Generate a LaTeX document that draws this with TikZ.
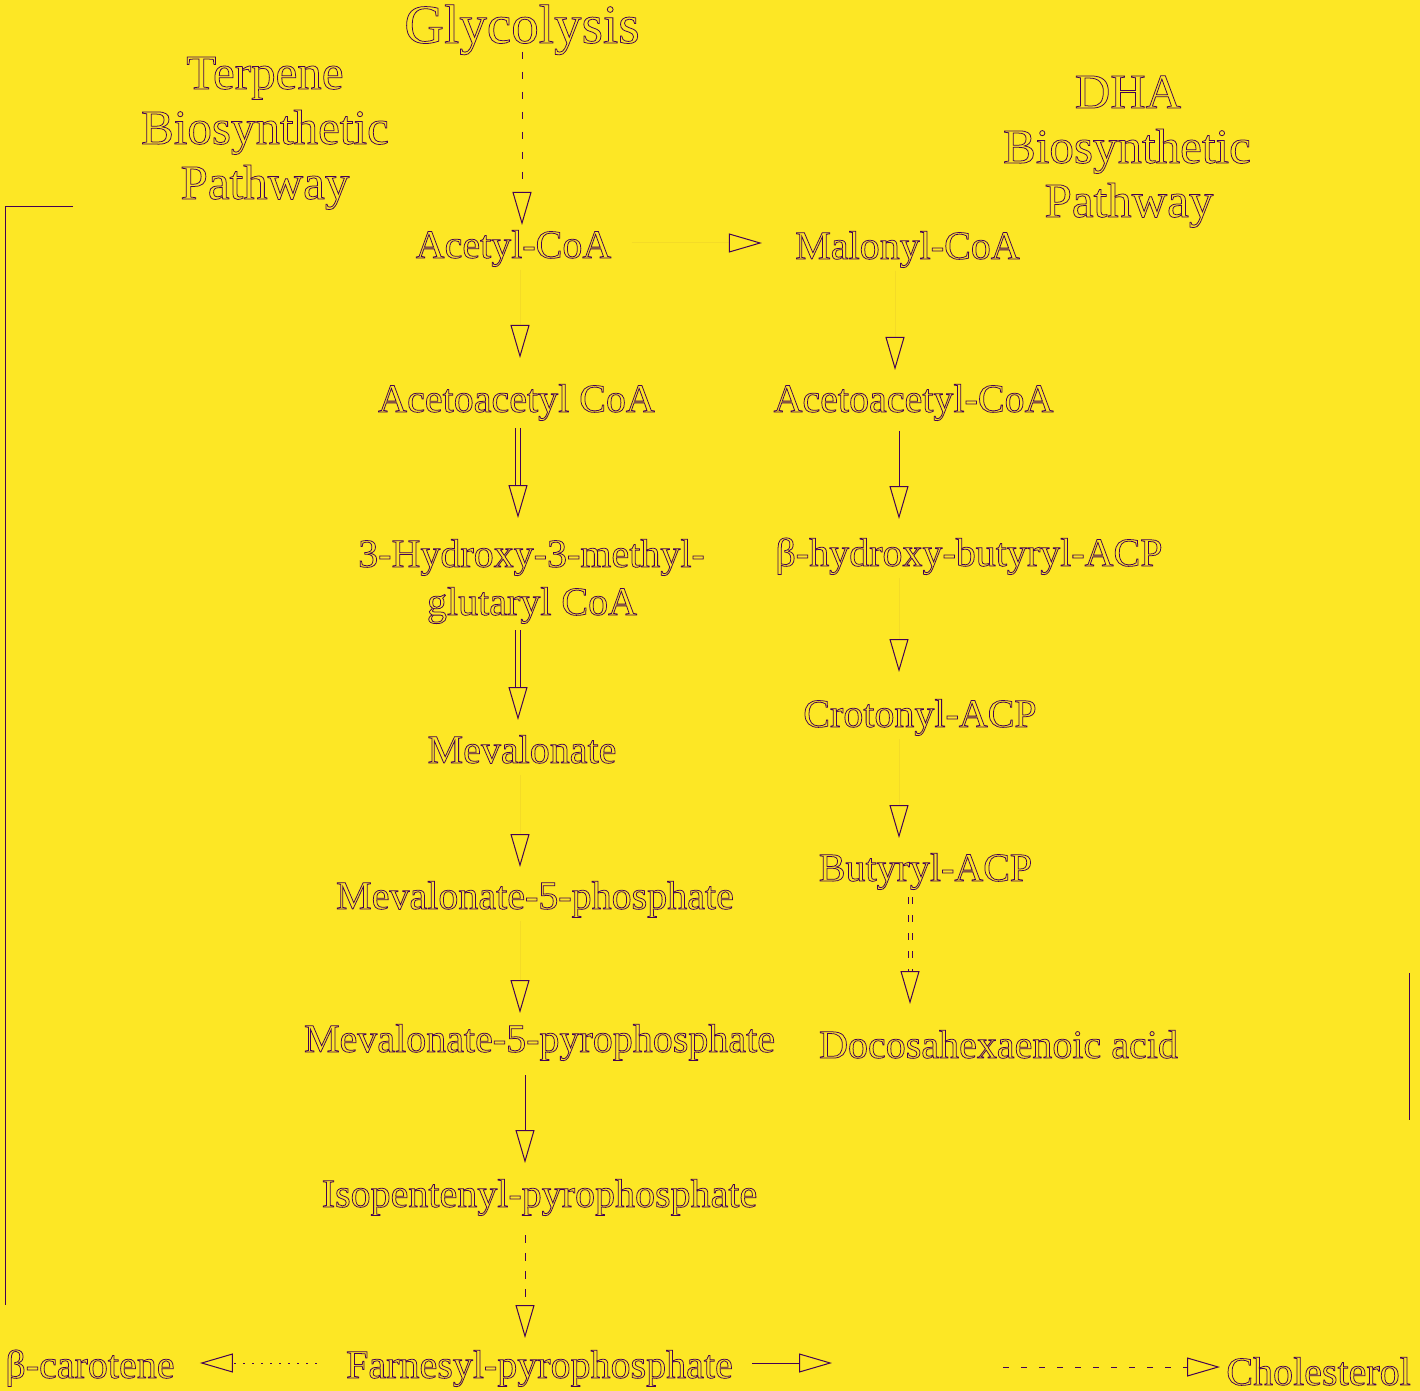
\documentclass[tikz,border=0pt]{standalone}
\usepackage{fontspec}
\setmainfont{Liberation Serif}
\usetikzlibrary{arrows.meta,calc}

\definecolor{bg}{HTML}{FDE725}
\definecolor{ink}{HTML}{440154}

% outlined glyphs (stroke only)
\newcommand\hollowon{\special{pdf:literal direct 1 Tr 0.38 w}}
\newcommand\hollowoff{\special{pdf:literal direct 0 Tr}}

\tikzset{
  lbl/.style={inner sep=0pt, text=ink, anchor=base, font=\fontsize{20}{24}\selectfont,
    execute at begin node=\hollowon, execute at end node=\hollowoff},
  title/.style={lbl, font=\fontsize{27.5}{30}\selectfont},
  head/.style={lbl, font=\fontsize{24.5}{27.5}\selectfont},
  edge/.style={draw=ink, line width=0.5pt},
  arr/.style={edge, -{Triangle[open, length=16.5pt, width=9.5pt, color=ink]}},
  ghost/.style={arr, draw=bg!95!ink},
  thick2/.style={arr, double=bg, double distance=2.2pt},
}

\begin{document}
\begin{tikzpicture}[x=0.5pt,y=0.5pt,yscale=-1,xscale=1]
    \fill[bg] (0,0) rectangle (1420,1391);
    \useasboundingbox (0,0) rectangle (1420,1391);

    % Text Node
    \node[title] (glyco) at (522,43) {Glycolysis};
    % Text Node
    \node[head] (terpA) at (265,89) {Terpene};
    \node[head] (terpB) at (265,144) {Biosynthetic};
    \node[head] (terpC) at (265,199) {Pathway};
    % Text Node
    \node[head] (dhaA) at (1128,108) {DHA};
    \node[head] (dhaB) at (1127,163) {Biosynthetic};
    \node[head] (dhaC) at (1129,217) {Pathway};

    % left column
    \node[lbl] (acetyl) at (513.5,258) {Acetyl-CoA};
    \node[lbl] (acetoL) at (516.5,412) {Acetoacetyl CoA};
    \node[lbl] (hmgA) at (531.5,567) {3-Hydroxy-3-methyl-};
    \node[lbl] (hmgB) at (532,615) {glutaryl CoA};
    \node[lbl] (meval) at (522,763) {Mevalonate};
    \node[lbl] (mfp) at (535,909) {Mevalonate-5-phosphate};
    \node[lbl] (mfpp) at (539.5,1052) {Mevalonate-5-pyrophosphate};
    \node[lbl] (ipp) at (539.5,1207) {Isopentenyl-pyrophosphate};
    \node[lbl] (fpp) at (539.5,1378) {Farnesyl-pyrophosphate};
    \node[lbl, anchor=base west] (carot) at (5,1378) {β-carotene};
    \node[lbl, anchor=base west] (chol) at (1226,1385) {Cholesterol};

    % right column
    \node[lbl] (malonyl) at (907.5,259) {Malonyl-CoA};
    \node[lbl] (acetoR) at (913.5,412) {Acetoacetyl-CoA};
    \node[lbl] (betaoh) at (969,566) {β-hydroxy-butyryl-ACP};
    \node[lbl] (crot) at (920,727) {Crotonyl-ACP};
    \node[lbl] (butyr) at (925.5,881) {Butyryl-ACP};
    \node[lbl] (docosa) at (998.5,1058) {Docosahexaenoic acid};

    % columns and rows of the connectors
    \coordinate (cA) at (522,0);
    \coordinate (cB) at (520,0);
    \coordinate (cC) at (518,0);
    \coordinate (cD) at (525,0);
    \coordinate (cE) at (895,0);
    \coordinate (cF) at (899,0);
    \coordinate (cG) at (910,0);
    \coordinate (rA) at (0,243);
    \coordinate (rF) at (0,1363);
    \coordinate (sq) at (832,1363);
    \coordinate (chA) at (1003,1367);

    %Straight Lines
    \draw[arr, dash pattern=on 3.5pt off 6.5pt, shorten <=4.5pt, shorten >=16.5pt] (glyco.base -| cA) -- (acetyl.base -| cA);
    \draw[ghost, shorten <=6pt, shorten >=27pt] (acetyl.base -| cB) -- (acetoL.base -| cB);
    \draw[thick2, shorten <=8pt, shorten >=24.5pt] (acetoL.base -| cC) -- (hmgA.base -| cC);
    \draw[thick2, shorten <=7.5pt, shorten >=21.5pt] (hmgB.base -| cC) -- (meval.base -| cC);
    \draw[ghost, shorten <=6pt, shorten >=21pt] (meval.base -| cB) -- (mfp.base -| cB);
    \draw[ghost, shorten <=6pt, shorten >=19.5pt] (mfp.base -| cB) -- (mfpp.base -| cB);
    \draw[arr, shorten <=11.5pt, shorten >=22pt] (mfpp.base -| cD) -- (ipp.base -| cD);
    \draw[arr, dash pattern=on 4pt off 5pt, shorten <=14pt, shorten >=20pt] (ipp.base -| cD) -- (fpp.base -| cD);

    \draw[ghost, shorten <=6pt, shorten >=21pt] (malonyl.base -| cE) -- (acetoR.base -| cE);
    \draw[arr, shorten <=9.5pt, shorten >=23.5pt] (acetoR.base -| cF) -- (betaoh.base -| cF);
    \draw[ghost, shorten <=6pt, shorten >=27.5pt] (betaoh.base -| cF) -- (crot.base -| cF);
    \draw[ghost, shorten <=6pt, shorten >=21.5pt] (crot.base -| cF) -- (butyr.base -| cF);
    \draw[thick2, double distance=1.5pt, dash pattern=on 3.5pt off 5.5pt, shorten <=8pt, shorten >=27pt] (butyr.base -| cG) -- (docosa.base -| cG);

    \draw[ghost, shorten <=10pt, shorten >=16.5pt] (acetyl.east |- rA) -- (malonyl.west |- rA);
    \draw[arr, dash pattern=on 1pt off 3.5pt, shorten <=14.5pt, shorten >=12.5pt] (fpp.west |- rF) -- (carot.east |- rF);
    \draw[arr, shorten <=9.5pt] (fpp.east |- rF) -- (sq);
    \draw[arr, dash pattern=on 3pt off 6pt, shorten >=3pt] (chA) -- (chol.west |- chA);

    % side lines
    \draw[edge] (73,207) -| (5,1305);
    \draw[edge] (1409,973) -- (1409,1120);
\end{tikzpicture}
\end{document}
